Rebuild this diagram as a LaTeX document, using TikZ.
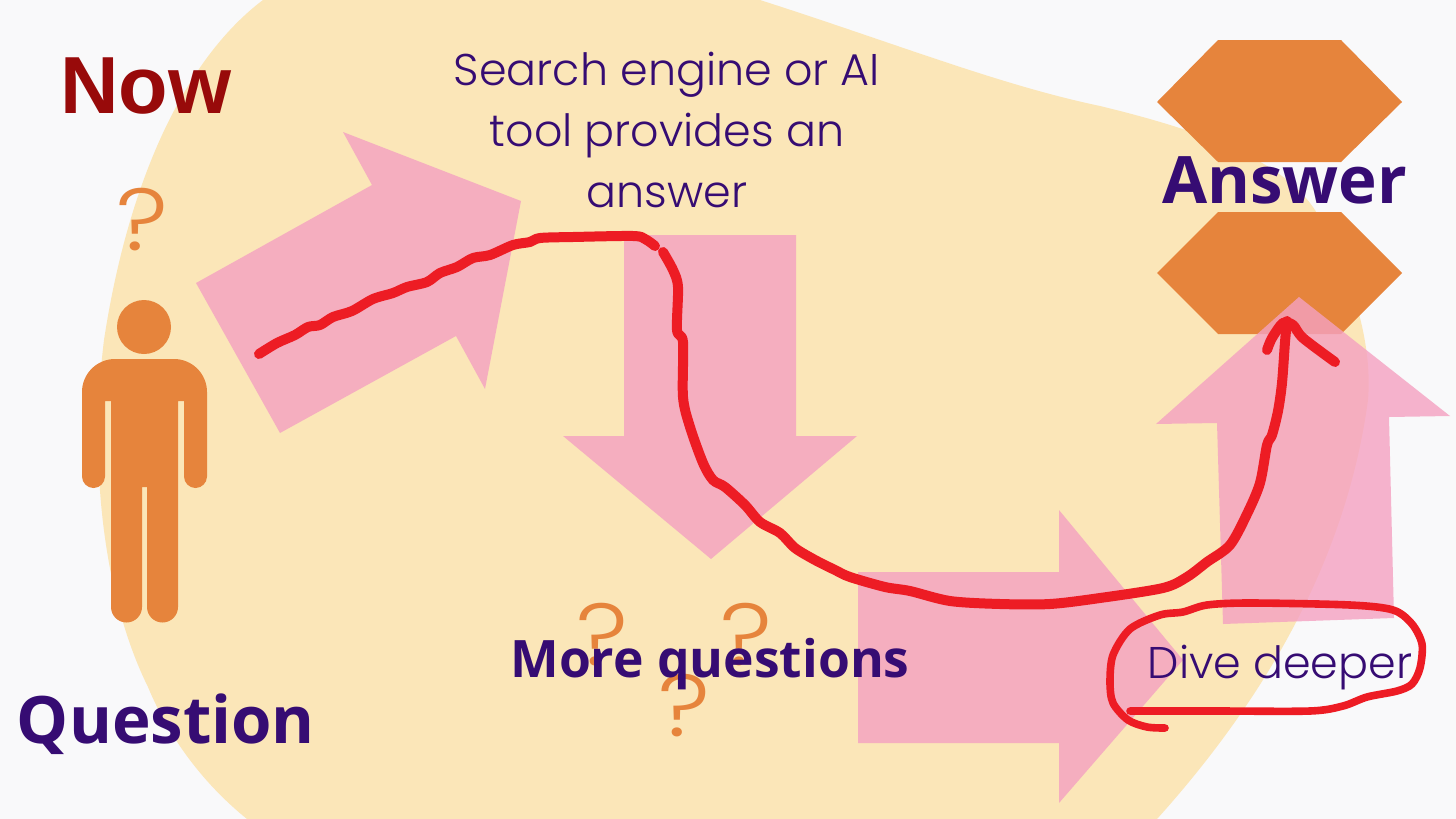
\documentclass[tikz,border=0pt]{standalone}
\usepackage{fontspec}
\usepackage{xcolor}
\setmainfont{Poppins}[UprightFont={* Light}]
\newfontfamily\headfont{Open Sans}
\newfontfamily\nowfont{Liberation Sans}
\newfontfamily\markfont{Poppins}[UprightFont={* Light}]
\definecolor{pagegray}{RGB}{249,249,250}
\definecolor{blobcream}{RGB}{251,230,184}
\definecolor{arrowpink}{RGB}{244,161,193}
\definecolor{shapeorange}{RGB}{230,132,60}
\definecolor{inkpurple}{RGB}{54,12,115}
\definecolor{nowred}{RGB}{152,10,10}
\definecolor{penred}{RGB}{237,28,36}
\tikzset{
bigarrow/.style = {fill=arrowpink, fill opacity=0.8},
hexshape/.style = {fill=shapeorange},
penline/.style = {draw=penred, line width=5pt, line cap=round, line join=round},
headlabel/.style = {inner sep=0pt, anchor=base, text=inkpurple, font=\headfont\bfseries\fontsize{32.7}{36}\selectfont},
bodylabel/.style = {inner sep=0pt, text=inkpurple, align=center, font=\fontsize{22.2}{30.5}\selectfont},
qmark/.style = {inner sep=0pt, anchor=base, text=shapeorange, font=\markfont\fontsize{44}{48}\selectfont}
}

\begin{document}
\begin{tikzpicture}[x=0.5pt,y=-0.5pt]

\fill[pagegray] (0,0) rectangle (1456,819);
\useasboundingbox (0,0) rectangle (1456,819);

% background blob
\fill[blobcream] (263,0) .. controls (190,55) and (130,170) .. (104,340) .. controls (88,470) and (105,600) .. (148,687)
  .. controls (170,740) and (205,785) .. (247,819) -- (1157,819) .. controls (1255,710) and (1345,570) .. (1368,400)
  .. controls (1373,340) and (1350,270) .. (1315,210) .. controls (1285,165) and (1220,135) .. (1100,106)
  .. controls (1000,85) and (900,45) .. (760,0) -- cycle;

% hexagons
\fill[hexshape] (1218,40) -- (1341,40) -- (1402,102) -- (1341,162) -- (1218,162) -- (1157,102) -- cycle;
\fill[hexshape] (1218,212) -- (1341,212) -- (1402,273) -- (1341,334) -- (1218,334) -- (1157,273) -- cycle;

% arrows
\fill[bigarrow] (196,283) -- (280,433) -- (456,336) -- (485,389) -- (521,201) -- (343,132) -- (372,185) -- cycle;
\fill[bigarrow] (624,235) -- (796,235) -- (796,436) -- (857,436) -- (711,559) -- (563,436) -- (624,436) -- cycle;
\fill[bigarrow] (858,572) -- (1059,572) -- (1059,510) -- (1183,660) -- (1059,803) -- (1059,743) -- (858,743) -- cycle;
\fill[bigarrow] (1299,297) -- (1450,416) -- (1389,417) -- (1394,618) -- (1223,624) -- (1217,423) -- (1156,424) -- cycle;

% person
\fill[shapeorange] (144,327) circle (13.5pt);
\fill[shapeorange] (82,476) -- (82,392) arc (180:270:33) -- (174,359) arc (270:360:33) -- (207,476.5) arc (0:180:11.5)
  -- (184,401) -- (178,401) -- (178,607) arc (0:180:15.5) -- (147,487) -- (142,487) -- (142,607) arc (0:180:15.5)
  -- (111,401) -- (105,401) -- (105,476.5) arc (0:180:11.5) -- cycle;

% question marks
\node[qmark] (markNow) at (142,250) {\scalebox{1.15}[1]{?}};
\node[qmark] (markLeft) at (602,665) {\scalebox{1.15}[1]{?}};
\node[qmark] (markRight) at (746,665) {\scalebox{1.15}[1]{?}};
\node[qmark] (markLow) at (684,736) {\scalebox{1.15}[1]{?}};

% labels
\node[inner sep=0pt, anchor=base, text=nowred, font=\nowfont\bfseries\fontsize{40.5}{44}\selectfont] (now) at (146,113) {Now};
\node[headlabel] (question) at (166,743) {Question};
\node[headlabel] (answer) at (1284.5,203) {Answer};
\node[headlabel, font=\headfont\bfseries\fontsize{25.8}{30}\selectfont] (more) at (710,677) {More questions};
\node[bodylabel] (search) at (667,130) {Search engine or AI\\tool provides an\\answer};
\node[bodylabel, anchor=base] (dive) at (1280,678) {Dive deeper};

% red pen lines
\draw[penline] plot[smooth, tension=0.5] coordinates {(259,354) (277,343) (295,335) (308,327) (320,325) (333,317) (352,311) (373,299) (393,293) (407,287) (427,282) (440,273) (457,267) (473,258) (490,255) (513,245) (530,242) (540,238) (573,237) (633,236) (645,239) (655,246)};
\draw[penline] plot[smooth, tension=0.5] coordinates {(663,252) (673,270) (678,287) (677,330) (683,342) (683,397) (690,427) (703,463) (713,480) (725,487) (745,505) (760,522) (780,533) (795,548) (815,560) (835,570) (850,577) (885,587) (910,591) (950,601) (1000,604) (1050,604) (1100,598) (1163,588) (1187,577) (1207,562) (1230,545) (1247,514) (1260,483) (1267,445) (1272,435) (1278,411) (1282,383) (1285,342) (1287,321)};
\draw[penline] plot[smooth, tension=0.5] coordinates {(1267,350) (1272,338) (1283,323) (1293,325) (1303,338) (1335,362)};
\draw[penline, line width=3.8pt] plot[smooth, tension=0.5] coordinates {(1165,728) (1147,727) (1128,720) (1113,703) (1110,682) (1113,655) (1130,629) (1160,615) (1183,612) (1207,605) (1250,603) (1350,605) (1393,610) (1412,624) (1422,644) (1420,668) (1412,684) (1397,691) (1367,697) (1343,706) (1310,711) (1217,711) (1130,711)};

\end{tikzpicture}
\end{document}
